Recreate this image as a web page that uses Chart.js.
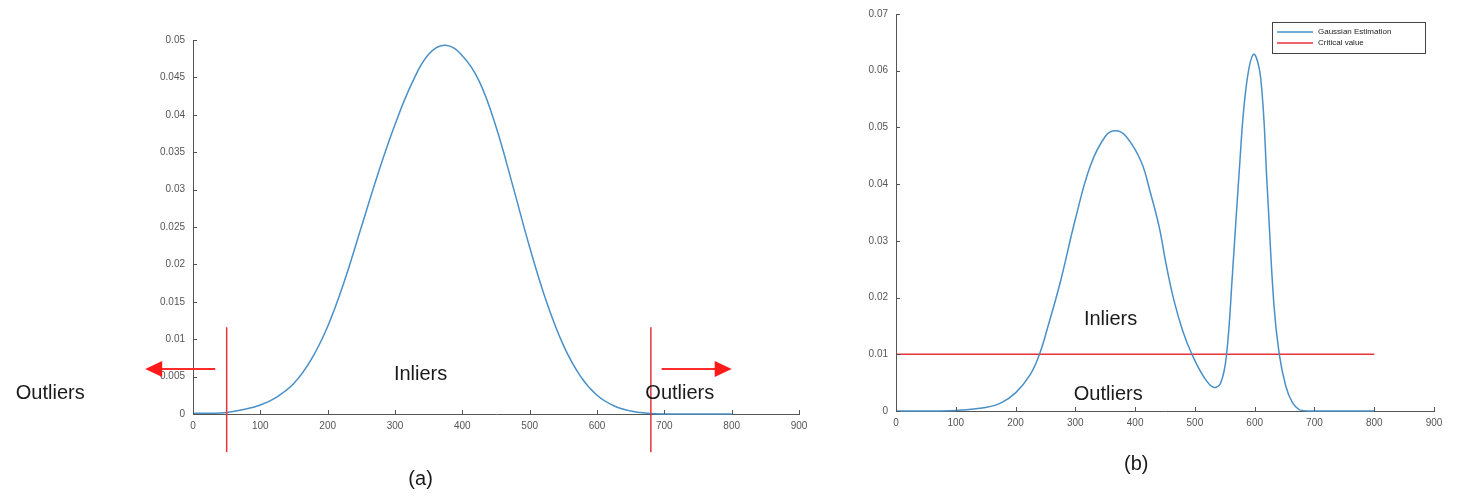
<!DOCTYPE html>
<html lang="en">
<head>
    <meta charset="UTF-8">
    <title>Gaussian estimation - outliers</title>
    <script src="https://cdn.jsdelivr.net/npm/chart.js"></script>
    <style>
        body {
            margin: 0;
            background-color: #ffffff;
            width: 1457px;
            height: 496px;
            position: relative;
            overflow: hidden;
        }
        .box {
            position: absolute;
            top: 0;
            height: 496px;
        }
        #boxA { left: 0; width: 840px; }
        #boxB { left: 840px; width: 617px; }
    </style>
</head>
<body>
    <div class="box" id="boxA"><canvas id="graficoA"></canvas></div>
    <div class="box" id="boxB"><canvas id="graficoB"></canvas></div>

    <script>
        // (a) single gaussian
        const xA = [0, 25, 50, 75, 100, 125, 150, 175, 200, 225, 250, 275, 300, 325, 350, 375, 400, 425, 450, 475, 500, 525, 550, 575, 600, 625, 650, 675, 700, 750, 800];
        const yA = [0.0001, 0.0001, 0.0002, 0.0006, 0.0012, 0.0023, 0.0041, 0.0072, 0.0117, 0.0178, 0.0250, 0.0322, 0.0387, 0.0442, 0.0481, 0.0493, 0.0479, 0.0445, 0.0384, 0.0305, 0.0223, 0.0150, 0.0092, 0.0051, 0.0025, 0.0011, 0.0004, 0.0001, 0, 0, 0];
        const cutsA = [50, 680];

        // (b) gaussian estimation with two modes + critical value
        const xB = [0, 50, 100, 150, 175, 200, 225, 240, 255, 275, 300, 325, 350, 367, 385, 410, 425, 440, 452, 465, 480, 495, 515, 531, 543, 553, 563, 574, 585, 598, 610, 621, 632, 641, 652, 663, 675, 690, 800];
        const yB = [0, 0, 0.0001, 0.0006, 0.0014, 0.0032, 0.0065, 0.0100, 0.0152, 0.0228, 0.0338, 0.0432, 0.0484, 0.0494, 0.0484, 0.0440, 0.0387, 0.0326, 0.0258, 0.0195, 0.0140, 0.0100, 0.0060, 0.0042, 0.0049, 0.0100, 0.0244, 0.0420, 0.0565, 0.0629, 0.0588, 0.0395, 0.0190, 0.0101, 0.0044, 0.0015, 0.0002, 0, 0];
        const critX = [0, 800];
        const critY = [0.01, 0.01];

        const xTicks = [0, 100, 200, 300, 400, 500, 600, 700, 800, 900];

        // text labels in data units: [text, x, y]
        const labelsA = [["Outliers", -212, 0.0028], ["Inliers", 338, 0.0053], ["Outliers", 723, 0.0028], ["(a)", 338, -0.0088]];
        const labelsB = [["Inliers", 359, 0.0162], ["Outliers", 355, 0.0029], ["(b)", 402, -0.0094]];
        // arrows: [from x, to x, y]
        const arrowsA = [[33, -71, 0.006], [696, 800, 0.006]];

        const azul = "#4a90c8";
        const rojo = "#e8333c";

        function pares(xs, ys) {
            return xs.map((x, i) => ({ x: x, y: ys[i] }));
        }

        function etiqueta(v) {
            return String(Number(v.toFixed(3)));
        }

        function escalas(yMax, yStep, yWidth, xHeight) {
            return {
                x: {
                    type: "linear", min: 0, max: 900,
                    afterBuildTicks: s => { s.ticks = xTicks.map(v => ({ value: v })); },
                    afterFit: s => { s.height = xHeight; },
                    grid: { drawOnChartArea: false, drawTicks: false },
                    border: { color: "#555", width: 1 },
                    ticks: { color: "#555", padding: 6, font: { family: "Liberation Sans", size: 10 } }
                },
                y: {
                    min: 0, max: yMax,
                    afterFit: s => { s.width = yWidth; },
                    grid: { drawOnChartArea: false, drawTicks: false },
                    border: { color: "#555", width: 1 },
                    ticks: { stepSize: yStep, color: "#555", padding: 8, callback: etiqueta, font: { family: "Liberation Sans", size: 10 } }
                }
            };
        }

        // inner tick marks like the original figure
        const marcas = {
            id: "marcas",
            afterDraw(chart) {
                const { ctx, chartArea, scales: { x, y } } = chart;
                ctx.save();
                ctx.strokeStyle = "#555";
                ctx.lineWidth = 1;
                x.ticks.forEach(t => {
                    const px = Math.round(x.getPixelForValue(t.value)) + 0.5;
                    ctx.beginPath();
                    ctx.moveTo(px, chartArea.bottom);
                    ctx.lineTo(px, chartArea.bottom - 4);
                    ctx.stroke();
                });
                y.ticks.forEach(t => {
                    const py = Math.round(y.getPixelForValue(t.value)) + 0.5;
                    ctx.beginPath();
                    ctx.moveTo(chartArea.left, py);
                    ctx.lineTo(chartArea.left + 4, py);
                    ctx.stroke();
                });
                ctx.restore();
            }
        };

        function textos(lista) {
            return {
                id: "textos",
                afterDraw(chart) {
                    const { ctx, scales: { x, y } } = chart;
                    ctx.save();
                    ctx.fillStyle = "#1a1a1a";
                    ctx.font = "20px 'Liberation Sans'";
                    ctx.textAlign = "center";
                    ctx.textBaseline = "middle";
                    lista.forEach(([t, vx, vy]) => {
                        ctx.fillText(t, x.getPixelForValue(vx), y.getPixelForValue(vy));
                    });
                    ctx.restore();
                }
            };
        }

        const cortes = {
            id: "cortes",
            afterDraw(chart) {
                const { ctx, scales: { x, y } } = chart;
                ctx.save();
                ctx.strokeStyle = rojo;
                ctx.lineWidth = 1.5;
                cutsA.forEach(c => {
                    const px = x.getPixelForValue(c);
                    ctx.beginPath();
                    ctx.moveTo(px, y.getPixelForValue(0.0116));
                    ctx.lineTo(px, y.getPixelForValue(-0.0051));
                    ctx.stroke();
                });
                ctx.strokeStyle = "#ff2a2a";
                ctx.fillStyle = "#ff1a1a";
                ctx.lineWidth = 2;
                arrowsA.forEach(([a, b, v]) => {
                    const x0 = x.getPixelForValue(a), x1 = x.getPixelForValue(b), py = y.getPixelForValue(v);
                    const dir = Math.sign(x1 - x0);
                    ctx.beginPath();
                    ctx.moveTo(x0, py);
                    ctx.lineTo(x1 - dir * 14, py);
                    ctx.stroke();
                    ctx.beginPath();
                    ctx.moveTo(x1, py);
                    ctx.lineTo(x1 - dir * 17, py - 8);
                    ctx.lineTo(x1 - dir * 17, py + 8);
                    ctx.closePath();
                    ctx.fill();
                });
                ctx.restore();
            }
        };

        const leyenda = {
            id: "leyenda",
            afterDraw(chart) {
                const { ctx, chartArea } = chart;
                const w = 153, h = 31;
                const x0 = chartArea.right - 9 - w, y0 = chartArea.top + 8;
                ctx.save();
                ctx.fillStyle = "#fff";
                ctx.fillRect(x0, y0, w, h);
                ctx.strokeStyle = "#444";
                ctx.lineWidth = 1;
                ctx.strokeRect(Math.round(x0) + 0.5, Math.round(y0) + 0.5, w, h);
                ctx.font = "8px 'Liberation Sans'";
                ctx.textBaseline = "middle";
                chart.data.datasets.forEach((ds, i) => {
                    const py = y0 + 10 + i * 11;
                    ctx.strokeStyle = ds.borderColor;
                    ctx.lineWidth = 1.5;
                    ctx.beginPath();
                    ctx.moveTo(x0 + 5, py);
                    ctx.lineTo(x0 + 41, py);
                    ctx.stroke();
                    ctx.fillStyle = "#222";
                    ctx.fillText(ds.label, x0 + 46, py);
                });
                ctx.restore();
            }
        };

        const comunes = {
            responsive: true,
            maintainAspectRatio: false,
            animation: false,
            plugins: { legend: { display: false }, tooltip: { enabled: false } },
            elements: { point: { radius: 0 } }
        };

        new Chart(document.getElementById("graficoA"), {
            type: "line",
            data: {
                datasets: [{
                    label: "Gaussian",
                    data: pares(xA, yA),
                    borderColor: azul,
                    borderWidth: 1.5,
                    fill: false,
                    tension: 0.4,
                    clip: 4
                }]
            },
            options: Object.assign({}, comunes, {
                layout: { padding: { left: 143, right: 41, top: 40, bottom: 52 } },
                scales: escalas(0.05, 0.005, 50, 30)
            }),
            plugins: [marcas, cortes, textos(labelsA)]
        });

        new Chart(document.getElementById("graficoB"), {
            type: "line",
            data: {
                datasets: [
                    {
                        label: "Gaussian Estimation",
                        data: pares(xB, yB),
                        borderColor: azul,
                        borderWidth: 1.5,
                        fill: false,
                        tension: 0.4,
                        clip: 4
                    },
                    {
                        label: "Critical value",
                        data: pares(critX, critY),
                        borderColor: rojo,
                        borderWidth: 1.5,
                        fill: false
                    }
                ]
            },
            options: Object.assign({}, comunes, {
                layout: { padding: { left: 11, right: 23, top: 14, bottom: 60 } },
                scales: escalas(0.07, 0.01, 45, 25)
            }),
            plugins: [marcas, textos(labelsB), leyenda]
        });
    </script>
</body>
</html>
